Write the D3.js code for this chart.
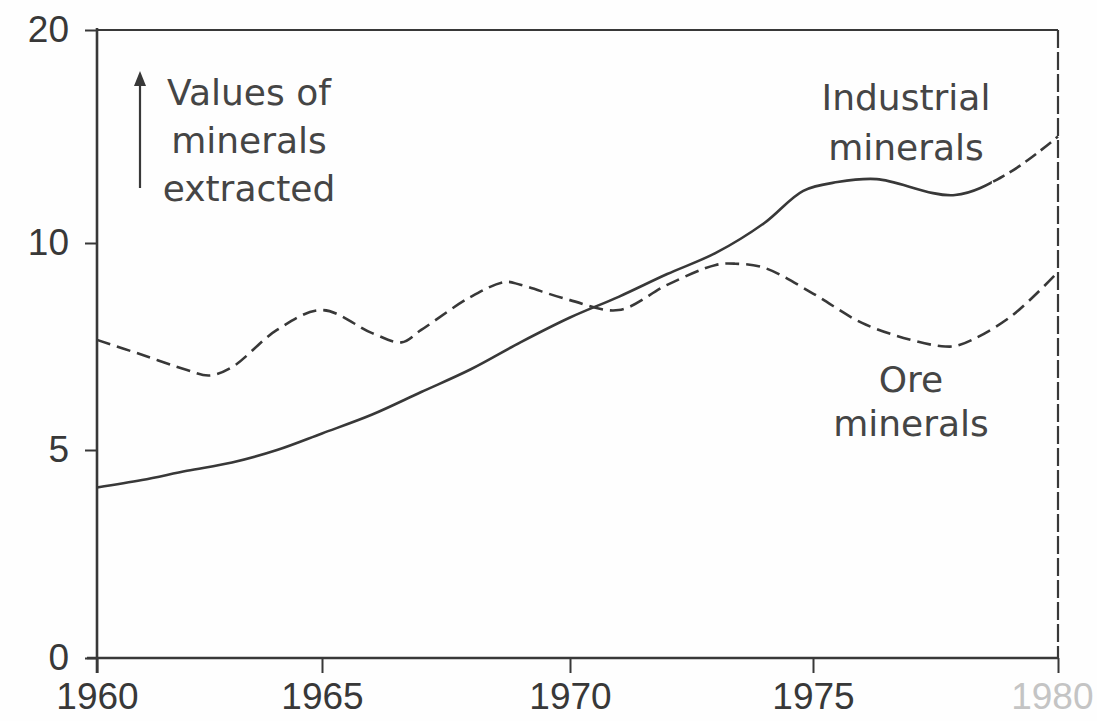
<!DOCTYPE html>
<html>
<head>
<meta charset="utf-8">
<script src="https://cdn.jsdelivr.net/npm/d3@7"></script>
<style>
body{margin:0;background:#fff;}
svg{display:block;}
</style>
</head>
<body>
<script>
// tick labels
const yearTicks = [1960, 1965, 1970, 1975, 1980];
const valueTicks = [0, 5, 10, 20];

// industrial minerals (solid, projected part dashed)
const industrialYears = [1960, 1961, 1962, 1963, 1964, 1965, 1966, 1967, 1968, 1969, 1970,
  1971, 1972, 1973, 1974, 1974.8, 1975.5, 1976.3, 1977.9, 1979, 1980];
const industrialValues = [4.1, 4.28, 4.5, 4.7, 5.0, 5.4, 5.85, 6.4, 6.95, 7.6, 8.2,
  8.7, 9.25, 9.76, 10.94, 12.45, 12.86, 13.0, 12.25, 13.3, 15.0];
const projectedFrom = 1978.65;

// ore minerals (dashed)
const oreYears = [1960, 1961, 1962, 1962.5, 1963, 1964, 1965, 1966, 1966.6, 1967, 1968, 1968.7,
  1969, 1970, 1971, 1972, 1973, 1973.4, 1974, 1975, 1976, 1977, 1977.7, 1978, 1979, 1980];
const oreValues = [7.66, 7.3, 6.93, 6.8, 7.0, 7.9, 8.38, 7.83, 7.6, 7.9, 8.7, 9.06,
  8.99, 8.62, 8.38, 8.99, 9.47, 9.5, 9.4, 8.78, 8.07, 7.66, 7.5, 7.54, 8.19, 9.3];

const W = 1097, H = 721;
const ink = '#383838';

const svg = d3.select('body').append('svg')
  .attr('width', W).attr('height', H);

svg.append('rect').attr('width', W).attr('height', H).attr('fill', '#fefefe');

// hand drawn axis, ticks are not evenly spaced
const x = d3.scaleLinear().domain(yearTicks).range([97, 322, 570, 813, 1058]);
const y = d3.scaleLinear().domain(valueTicks).range([658, 450, 243, 30]);

const tickFont = '"Liberation Sans", Arial, sans-serif';
const labelFont = '"DejaVu Sans", sans-serif';

// frame: top + right
svg.append('line')
  .attr('x1', x(1960)).attr('x2', x(1980))
  .attr('y1', y(20)).attr('y2', y(20))
  .attr('stroke', ink).attr('stroke-width', 2.2);
svg.append('line')
  .attr('x1', x(1980)).attr('x2', x(1980))
  .attr('y1', y(20)).attr('y2', y(0))
  .attr('stroke', ink).attr('stroke-width', 2.2)
  .attr('stroke-dasharray', '18,4');

// y axis
const yAxis = svg.append('g')
  .attr('transform', `translate(${x(1960)},0)`)
  .call(d3.axisLeft(y).tickValues(valueTicks).tickSizeInner(12).tickSizeOuter(0).tickPadding(16));
yAxis.select('.domain').remove();
yAxis.selectAll('line').attr('stroke', ink).attr('stroke-width', 2);
yAxis.selectAll('text').attr('font-family', tickFont).attr('font-size', 37).attr('fill', ink);

// x axis
const xAxis = svg.append('g')
  .attr('transform', `translate(0,${y(0)})`)
  .call(d3.axisBottom(x).tickValues(yearTicks).tickFormat(d3.format('d'))
    .tickSizeInner(15).tickSizeOuter(0).tickPadding(10));
xAxis.select('.domain').remove();
xAxis.selectAll('line').attr('stroke', ink).attr('stroke-width', 2);
xAxis.selectAll('text').attr('font-family', tickFont).attr('font-size', 37)
  .attr('fill', d => d === 1980 ? '#c4c4c4' : ink);
// last label sits against the page edge
xAxis.selectAll('.tick').filter(d => d === 1980).select('text')
  .attr('text-anchor', 'end').attr('x', W - 4 - x(1980));

// axis lines
svg.append('line')
  .attr('x1', x(1960)).attr('x2', x(1960))
  .attr('y1', y(20) - 2).attr('y2', y(0) + 15)
  .attr('stroke', ink).attr('stroke-width', 2.6);
svg.append('line')
  .attr('x1', x(1960) - 10).attr('x2', x(1980))
  .attr('y1', y(0)).attr('y2', y(0))
  .attr('stroke', ink).attr('stroke-width', 2.6);

const line = d3.line()
  .x(d => x(d[0])).y(d => y(d[1]))
  .curve(d3.curveCatmullRom.alpha(0.5));

const industrial = industrialYears.map((yr, i) => [yr, industrialValues[i]]);
const ore = oreYears.map((yr, i) => [yr, oreValues[i]]);

// clip areas for the solid / projected part of industrial curve
const defs = svg.append('defs');
defs.append('clipPath').attr('id', 'actual')
  .append('rect').attr('x', 0).attr('y', 0)
  .attr('width', x(projectedFrom)).attr('height', H);
defs.append('clipPath').attr('id', 'projected')
  .append('rect').attr('x', x(projectedFrom)).attr('y', 0)
  .attr('width', W - x(projectedFrom)).attr('height', H);

svg.append('path').datum(ore)
  .attr('d', line).attr('fill', 'none')
  .attr('stroke', ink).attr('stroke-width', 2.6)
  .attr('stroke-dasharray', '14,7');

svg.append('path').datum(industrial)
  .attr('clip-path', 'url(#actual)')
  .attr('d', line).attr('fill', 'none')
  .attr('stroke', ink).attr('stroke-width', 2.6);
svg.append('path').datum(industrial)
  .attr('clip-path', 'url(#projected)')
  .attr('d', line).attr('fill', 'none')
  .attr('stroke', ink).attr('stroke-width', 2.6)
  .attr('stroke-dasharray', '13,6');

// annotations
function label(lines, cx, baseline, gap) {
  svg.append('g').selectAll('text').data(lines).join('text')
    .attr('x', cx).attr('y', (d, i) => baseline + i * gap)
    .attr('text-anchor', 'middle')
    .attr('font-family', labelFont).attr('font-size', 36)
    .attr('fill', '#454545')
    .text(d => d);
}
label(['Values of', 'minerals', 'extracted'], 249, 105, 48);
label(['Industrial', 'minerals'], 906, 110, 50);
label(['Ore', 'minerals'], 911, 392, 44);

// little arrow next to the y label
svg.append('line')
  .attr('x1', 140).attr('x2', 140).attr('y1', 82).attr('y2', 188)
  .attr('stroke', ink).attr('stroke-width', 2.2);
svg.append('path')
  .attr('d', 'M134,86 L140,71 L146,86 Z')
  .attr('fill', ink);
</script>
</body>
</html>
